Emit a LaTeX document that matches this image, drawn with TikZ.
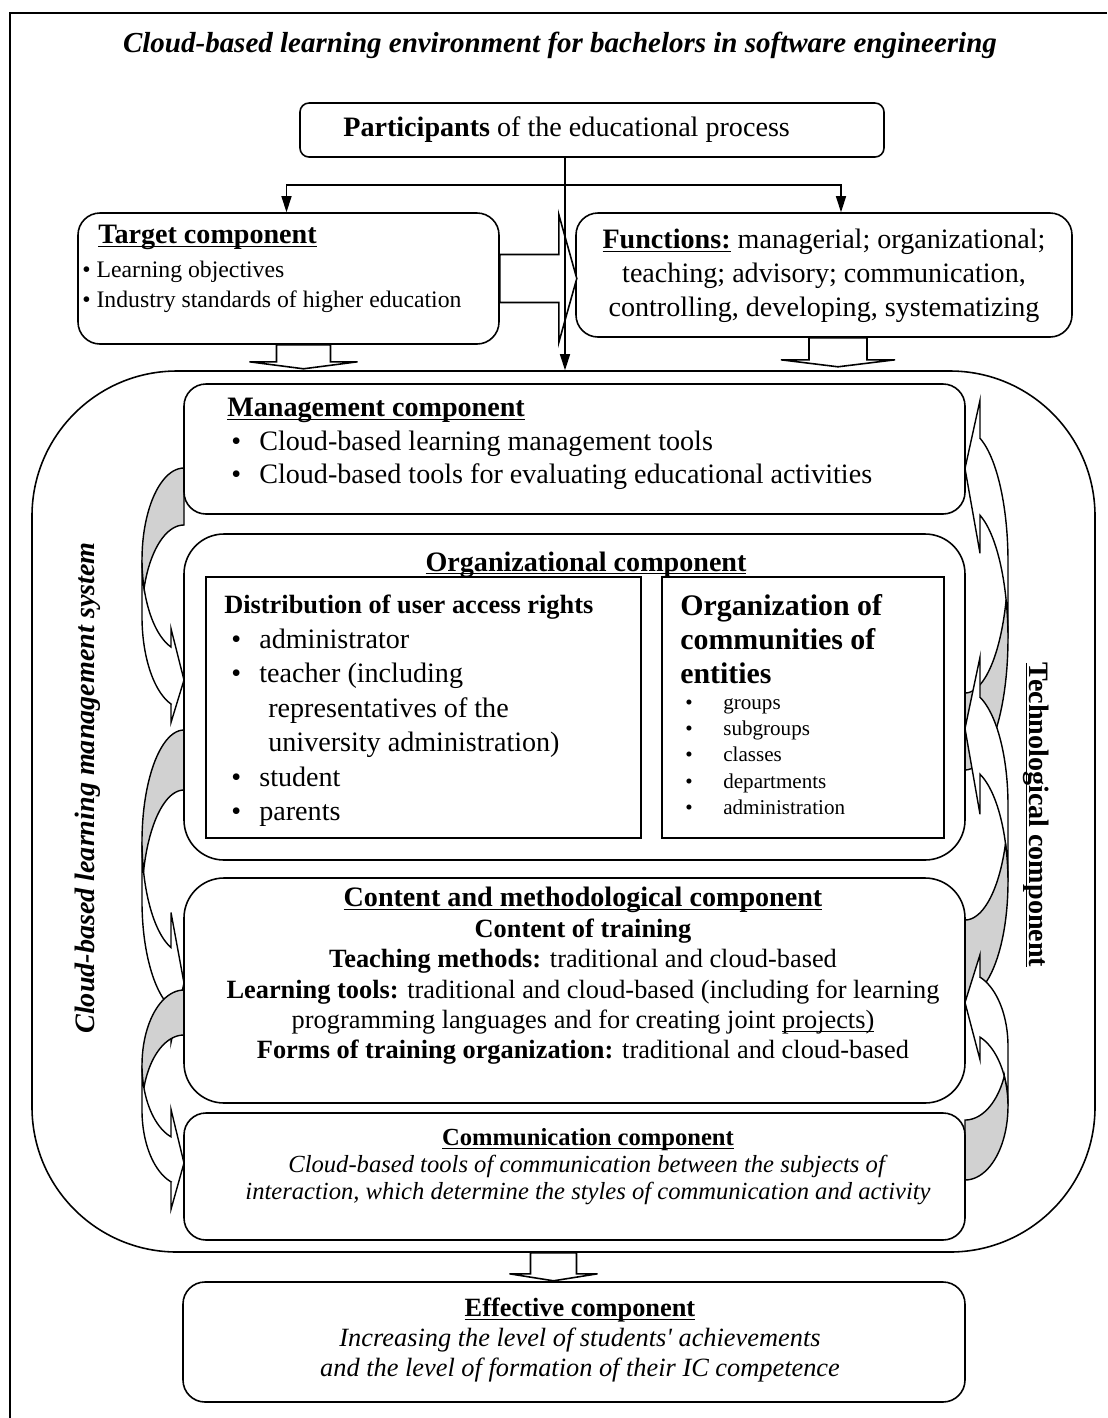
\documentclass[tikz,border=0pt]{standalone}
\usepackage{fontspec}
\setmainfont{Liberation Serif}
\usetikzlibrary{calc,fit,arrows.meta}

\newcommand\fs[2]{\fontsize{#1}{#2}\selectfont}
\newcommand\ul[1]{\underline{\raisebox{0pt}[\height][0pt]{#1}}}
\newcommand\itm{\makebox[0.64cm][l]{\hspace*{0.08cm}\textbullet}}
\newcommand\itmb{\makebox[0.7cm][l]{\hspace*{0.14cm}\textbullet}}
\newcommand\itms{\makebox[0.76cm][l]{\textbullet}}

\newcommand\blkdown[5]{\draw[hollow] #1 ++(-#3,0) -- ++(0,{#2-#5}) -- ++({#3-#4},0) -- ++(#4,#5) -- ++(#4,-#5) -- ++({#3-#4},0) -- ++(0,{#5-#2}) -- cycle;}
\newcommand\blkright[5]{\draw[hollow] #1 ++(0,-#3) -- ++({#2-#5},0) -- ++(0,{#3-#4}) -- ++(#5,#4) -- ++(-#5,#4) -- ++(0,{#3-#4}) -- ++({#5-#2},0) -- cycle;}

\newcommand\crvarrow[8]{%
  \begin{scope}[shift={(#1,#2)},rotate=#8]
    \pgfmathsetmacro\cwl{-#3/2}\pgfmathsetmacro\cwr{#3/2}
    \pgfmathsetmacro\cht{-#4/2}\pgfmathsetmacro\chb{#4/2}
    \pgfmathsetmacro\chr{#4/2-(#5+#6)/4}
    \pgfmathsetmacro\cya{\cht+\chr}
    \pgfmathsetmacro\cyb{\cya+#5}
    \pgfmathsetmacro\cpe{180-acos(#7/#3)}
    \pgfmathsetmacro\cdy{sqrt(#3*#3-#7*#7)*\chr/#3}
    \pgfmathsetmacro\cxa{\cwr-#7}
    \pgfmathsetmacro\cdh{(#6-#5)/2}
    \pgfmathsetmacro\cbe{asin(#5/(2*\chr))}
    \filldraw[band] (\cwl,\cya)
      -- plot[domain=180:\cpe,samples=30] ({\cwr+#3*cos(\x)},{\cya+\chr*sin(\x)})
      -- (\cxa,\cya+\cdy-\cdh) -- (\cwr,\chb-#6/2) -- (\cxa,\cyb+\cdy+\cdh)
      -- (\cxa,\cyb+\cdy)
      -- plot[domain=\cpe:180,samples=30] ({\cwr+#3*cos(\x)},{\cyb+\chr*sin(\x)}) -- cycle;
    \filldraw[band,fill=black!18] (\cwr,\cht) -- (\cwr,\cht+#5)
      -- plot[domain=270:180+\cbe,samples=30] ({\cwr+#3*cos(\x)},{\cyb+\chr*sin(\x)})
      -- plot[domain=180-\cbe:270,samples=30] ({\cwr+#3*cos(\x)},{\cya+\chr*sin(\x)}) -- cycle;
  \end{scope}}

\begin{document}
\begin{tikzpicture}[x=0.02cm,y=-0.02cm,
  box/.style={draw,line width=0.9pt,fill=white,rounded corners=0.44cm,inner sep=0pt},
  sharpbox/.style={draw,line width=0.9pt,fill=white,inner sep=0pt},
  txt/.style={inner sep=0pt,align=center},
  ltxt/.style={inner sep=0pt,align=left},
  arr/.style={line width=0.9pt,-{Triangle[length=0.32cm,width=0.2cm]}},
  hollow/.style={draw,line width=0.9pt,fill=white},
  band/.style={draw,line width=0.8pt,fill=white}]
\useasboundingbox (0,0) rectangle (1107,1418);
\draw[line width=0.9pt] (10,1418) -- (10,13) -- (1107,13);
\node[txt,font=\fs{16.5}{20}\bfseries\itshape] (title) at (560,45) {Cloud-based learning environment for bachelors in software engineering};

\node[box,rounded corners=0.18cm,fit={(300,103) (884,157)}] (part) {};
\node[txt,anchor=west,font=\fs{16}{19}] (parttxt) at (343,130) {\textbf{Participants} of the educational process};

\node[box,fit={(78,213) (499,344)}] (target) {};
\node[ltxt,anchor=north west,font=\fs{16}{19}\bfseries] (tgthead) at (98,225) {\ul{Target component}};
\node[ltxt,anchor=north west,font=\fs{13.5}{17}] (tgtlist) at (82,261) {\textbullet\ Learning objectives\\\textbullet\ Industry standards of higher education};

\node[box,fit={(576,213) (1072,337)}] (func) {};
\node[txt,anchor=north,font=\fs{16}{19.3}] (functxt) at (824,229) {\ul{\textbf{Functions:}} managerial; organizational;\\teaching; advisory; communication,\\controlling, developing, systematizing};

\blkright{(target.east)}{77}{24}{64}{18}
\blkdown{($(target.south)+(15,0)$)}{24}{27}{54}{7}
\blkdown{($(func.south)+(14,0)$)}{29}{29}{57}{7}

\node[box,rounded corners=2.9cm,fit={(32,371) (1095,1252)}] (lms) {};

\coordinate (hub) at (565,185);
\draw[arr] (part.south -| hub) -- (lms.north -| hub);
\draw[arr] (hub) -| ($(target.north)+(-2,0)$);
\draw[arr] (hub) -| ($(func.north)+(17,0)$);

\crvarrow{163}{597.5}{42}{259}{57}{94}{13}{0}
\crvarrow{163}{889}{42}{318}{60}{130}{13}{0}
\crvarrow{163}{1101.5}{42}{223}{45}{100}{13}{0}
\crvarrow{986.5}{581}{43}{378}{77}{153}{15}{180}
\crvarrow{986.5}{823.5}{43}{347}{77}{157}{15}{180}
\crvarrow{986.5}{1065}{43}{230}{60}{105}{15}{180}

\node[box,fit={(184,384) (965,514)}] (mgmt) {};
\node[ltxt,anchor=north west,font=\fs{16}{19}] (mgmttxt) at (227,398) {\ul{\textbf{Management component}}\\\itm Cloud-based learning management tools\\\itm Cloud-based tools for evaluating educational activities};

\node[box,rounded corners=0.8cm,fit={(184,534) (965,860)}] (org) {};
\node[txt,font=\fs{16}{19}\bfseries] (orghead) at (586,563) {\ul{Organizational component}};
\node[sharpbox,fit={(206,577) (641,838)}] (rights) {};
\node[ltxt,anchor=north west,font=\fs{16}{19.6}] (rightstxt) at (224,595) {{\bfseries\fs{15}{19.6}Distribution of user access rights}\\\itmb administrator\\\itmb teacher (including\\\hspace*{0.88cm}representatives of the\\\hspace*{0.88cm}university administration)\\\itmb student\\\itmb parents};
\node[sharpbox,fit={(662,577) (944,838)}] (groups) {};
\node[ltxt,anchor=north west,font=\fs{17}{19.3}\bfseries] (groupshead) at (680,594) {Organization of\\communities of\\entities};
\node[ltxt,anchor=north west,font=\fs{12}{15}] (groupslist) at (685,698) {\itms groups\\\itms subgroups\\\itms classes\\\itms departments\\\itms administration};

\node[box,rounded corners=0.8cm,fit={(184,878) (965,1103)}] (content) {};
\node[txt,anchor=north,font=\fs{15}{17.3}] (contenttxt) at (583,887) {{\fs{16}{17.3}\ul{\textbf{Content and methodological component}}}\\\textbf{Content of training}\\\textbf{Teaching methods:} traditional and cloud-based\\\textbf{Learning tools:} traditional and cloud-based (including for learning\\programming languages and for creating joint \ul{projects)}\\\textbf{Forms of training organization:} traditional and cloud-based};

\node[box,fit={(184,1113) (965,1240)}] (comm) {};
\node[txt,anchor=north,font=\fs{14}{15.4}] (commtxt) at (588,1128) {\ul{\textbf{Communication component}}\\\textit{Cloud-based tools of communication between the subjects of}\\\textit{interaction, which determine the styles of communication and activity}};

\node[txt,rotate=90,font=\fs{16}{19}\bfseries\itshape] (lmslabel) at (88,788) {Cloud-based learning management system};
\node[txt,rotate=-90,font=\fs{16}{19}\bfseries] (techlabel) at (1037,815) {\ul{Technological component}};

\blkdown{($(lms.south)+(-10,0)$)}{28}{23}{44}{7}
\node[box,fit={(183,1282) (965,1402)}] (eff) {};
\node[txt,anchor=north,font=\fs{15}{17}] (efftxt) at (580,1298) {\ul{\textbf{Effective component}}\\\textit{Increasing the level of students\textquotesingle\ achievements}\\\textit{and the level of formation of their IC competence}};
\end{tikzpicture}
\end{document}
